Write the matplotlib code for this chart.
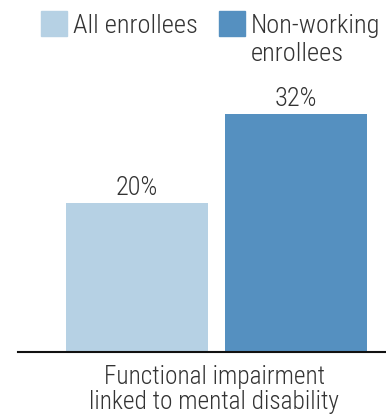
import matplotlib
matplotlib.use("Agg")
import matplotlib.pyplot as plt
from matplotlib.patches import Rectangle

# data
groups = ["All enrollees", "Non-working\nenrollees"]
values = [20, 32]
colors = ["#b6d1e4", "#5590c0"]
category = "Functional impairment\nlinked to mental disability"

W, H = 386, 415
plt.rcParams['font.family'] = ['Roboto Condensed', 'DejaVu Sans']
plt.rcParams['font.weight'] = 300
txt = "#333333"


def fx(x):
    return x / W


def fy(y):
    return 1 - y / H


fig = plt.figure(figsize=(W / 100, H / 100), dpi=100)
ax = fig.add_axes([fx(18), fy(352), fx(386) - fx(18), fy(54) - fy(352)])

pos = [0, 1]
bars = ax.bar(pos, values, width=0.896, color=colors)
for b, v in zip(bars, values):
    ax.annotate(f"{v}%", (b.get_x() + b.get_width() / 2, v),
                xytext=(0, 8), textcoords="offset pixels",
                ha="center", va="baseline", fontsize=19, color=txt)

ax.set_xlim(-0.751, 1.571)
ax.set_ylim(0, 40)
for s in ["top", "right", "left"]:
    ax.spines[s].set_visible(False)
ax.spines["bottom"].set_linewidth(1.5)
ax.spines["bottom"].set_color("#111111")
ax.set_xticks([])
ax.set_yticks([])

# x label, two lines
lines = category.split("\n")
fig.text(fx(215), fy(384), lines[0], ha="center", va="baseline",
         fontsize=18.3, color=txt)
fig.text(fx(214), fy(409), lines[1], ha="center", va="baseline",
         fontsize=18.3, color=txt)

# legend
legend_x = [41, 219]
for lx, g, c in zip(legend_x, groups, colors):
    fig.add_artist(Rectangle((fx(lx), fy(36)), fx(26), 25 / H,
                             transform=fig.transFigure, color=c))
    for i, line in enumerate(g.split("\n")):
        fig.text(fx(lx + 32), fy(33 + 28 * i), line, ha="left", va="baseline",
                 fontsize=19, color=txt)

fig.savefig("out.png", dpi=100)
